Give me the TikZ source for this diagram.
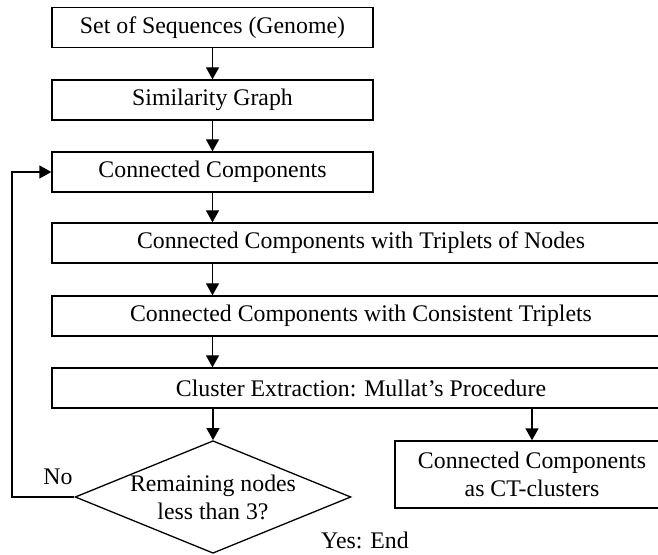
\documentclass[tikz,border=0pt]{standalone}
\usepackage{fontspec}
\setmainfont{Liberation Serif}
\usetikzlibrary{shapes.geometric,arrows.meta}

\begin{document}
\begin{tikzpicture}[
        x=0.5pt, y=-0.5pt,
        box/.style={rectangle, draw, line width=0.65pt, minimum height=20pt, inner sep=0pt, text centered, font=\fontsize{11.9}{14}\selectfont},
        smallbox/.style={box, minimum width=160.5pt},
        widebox/.style={box, minimum width=309pt},
        decision/.style={diamond, draw, line width=0.65pt, aspect=2.45, inner sep=0pt, minimum width=137pt, minimum height=56pt, align=center, font=\fontsize{11.9}{14}\selectfont},
        arrow/.style={-{Triangle[length=6pt, width=6.5pt]}, line width=0.65pt},
        label/.style={font=\fontsize{11.9}{14}\selectfont}
    ]
    \useasboundingbox (0,0) rectangle (658,555);
    \clip (0,0) rectangle (658,555);

    % Input side
    \node[smallbox] (genome) at (212.5, 27.5) {Set of Sequences (Genome)};
    \node[smallbox] (simgraph) at (212.5, 100) {Similarity Graph};
    \node[smallbox] (conncomp) at (212.5, 172) {Connected Components};

    \draw[arrow] (genome) -- (simgraph);
    \draw[arrow] (simgraph) -- (conncomp);

    % Filtering
    \node[widebox] (triplets) at (361, 243) {Connected Components with Triplets of Nodes};
    \node[widebox] (consistent) at (361, 316) {Connected Components with Consistent Triplets};
    \node[widebox] (mullat) at (361, 388) {Cluster Extraction: Mullat's Procedure};

    \draw[arrow] (conncomp) -- (conncomp |- triplets.north);
    \draw[arrow] (triplets.south -| conncomp) -- (consistent.north -| conncomp);
    \draw[arrow] (consistent.south -| conncomp) -- (mullat.north -| conncomp);

    % Output and loop
    \node[decision] (remaining) at (213, 497) {Remaining nodes\\less than 3?};
    \node[box, minimum width=137pt, minimum height=33.5pt, align=center] (ctclusters) at (532, 474.5) {Connected Components\\as CT-clusters};

    \draw[arrow] (mullat.south -| remaining) -- (remaining.north);
    \draw[arrow] (mullat.south -| ctclusters) -- (ctclusters.north);

    \coordinate (loop) at (12, 497);
    \draw[arrow] (remaining.west) -- (loop) |- (conncomp.west);

    \node[label] (no) at (58, 477) {No};
    \node[label] (yes) at (365, 540) {Yes: End};

    \end{tikzpicture}
\end{document}
